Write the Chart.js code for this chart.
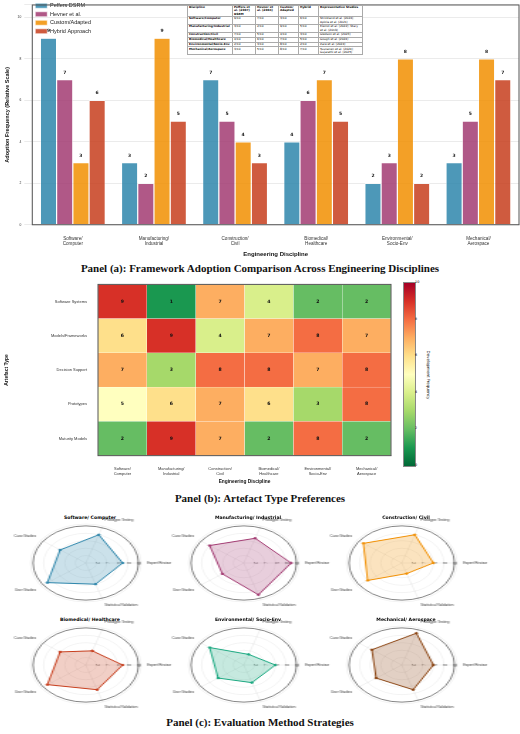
<!DOCTYPE html>
<html><head><meta charset="utf-8">
<script src="https://cdn.jsdelivr.net/npm/chart.js@4.4.0/dist/chart.umd.min.js"></script>
<style>
body{margin:0;background:#fff;font-family:"DejaVu Sans",sans-serif;}
#page{position:relative;width:520px;height:734px;overflow:hidden;}
.abs{position:absolute;}
.ptitle{position:absolute;left:0;width:520px;text-align:center;font-family:"Liberation Serif",serif;font-weight:bold;font-size:11px;color:#111;}
table{border-collapse:collapse;font-size:2.9px;background:#fff;width:176px;table-layout:fixed;}
td,th{border:0.5px solid #aaa;padding:0.3px 1px;vertical-align:top;text-align:left;line-height:1.1;}
th{font-weight:bold;}
td:first-child{font-weight:bold;}
.rt{position:absolute;width:170px;text-align:center;font-size:4.6px;font-weight:bold;}
</style></head><body>
<div id="page">
  <div class="abs" style="left:0;top:0;width:520px;height:262px"><canvas id="bar"></canvas></div>
  <div class="abs" style="left:187px;top:5px">
    <table id="tbl"></table>
  </div>
  <div class="ptitle" style="top:262px">Panel (a): Framework Adoption Comparison Across Engineering Disciplines</div>
  <div class="abs" style="left:0;top:279px;width:394px;height:210px"><canvas id="heat"></canvas></div>
  <div class="abs" id="cbar" style="left:403px;top:282px;width:11px;height:183px;border:0.5px solid #888"></div>
  <div class="abs" id="cticks" style="left:415px;top:282px;height:183px;width:10px;font-size:3.4px"></div>
  <div class="abs" style="width:60px;font-size:4px;transform:rotate(90deg);transform-origin:left top;text-align:center;left:431px;top:345px">Development Frequency</div>
  <div class="ptitle" style="top:492px">Panel (b): Artefact Type Preferences</div>
  <div id="radars"></div>
  <div class="ptitle" style="top:716px">Panel (c): Evaluation Method Strategies</div>
</div>
<script>
// ---- data ----
const disciplines = ['Software/Computer','Manufacturing/Industrial','Construction/Civil','Biomedical/Healthcare','Environmental/Socio-Env','Mechanical/Aerospace'];
const peffers = [9,3,7,4,2,3];
const hevner  = [7,2,5,6,3,5];
const custom  = [3,9,4,7,8,8];
const hybrid  = [6,5,3,5,2,7];
const studies = ['Strickland et al. (2024); Apiola et al. (2021)','Kiemzi et al. (2022); Stary et al. (2019)','Gledson et al. (2023)','Gough et al. (2024)','Zare et al. (2024)','Tuunanen et al. (2024); Gujarathi et al. (2025)'];

const artefacts = ['Software Systems','Models/Frameworks','Decision Support','Prototypes','Maturity Models'];
const heatSoftware      = [9,6,7,5,2];
const heatManufacturing = [1,9,3,6,9];
const heatConstruction  = [7,4,8,7,7];
const heatBiomedical    = [4,7,8,6,2];
const heatEnvironmental = [2,8,7,3,8];
const heatMechanical    = [2,7,8,8,2];

const evalMethods = ['Expert Review','Statistical Validation','User Studies','Case Studies','Prototype Testing'];
const evalSoftware      = [7,6,9,6,8];
const evalManufacturing = [9,9,5,8,7];
const evalConstruction  = [6,3,8,9,8];
const evalBiomedical    = [7,7,9,6,4];
const evalEnvironmental = [6,5,6,8,3];
const evalMechanical    = [6,7,6,7,9];

const splitLabel = s => s.split('/').map((p,i,a)=> i<a.length-1 ? p+'/' : p);

// table
const tbl = document.getElementById('tbl');
let h = '<tr><th style="width:42px">Discipline</th><th style="width:20px">Peffers et al. (2007) DSRM</th><th style="width:20px">Hevner et al. (2004)</th><th style="width:17px">Custom/ Adapted</th><th style="width:17px">Hybrid</th><th>Representative Studies</th></tr>';
disciplines.forEach((d,i)=>{
  h += `<tr><td>${d}</td><td>${peffers[i]}/10</td><td>${hevner[i]}/10</td><td>${custom[i]}/10</td><td>${hybrid[i]}/10</td><td>${studies[i]}</td></tr>`;
});
tbl.innerHTML = h;

const frame = {
  id:'frame',
  afterDraw(c){const a=c.chartArea,x=c.ctx;x.save();x.strokeStyle='#555';x.lineWidth=1;x.strokeRect(a.left,a.top,a.right-a.left,a.bottom-a.top);x.restore();}
};
const barLabels = {
  id:'barLabels',
  afterDatasetsDraw(c){
    const x=c.ctx;x.save();x.font='bold 4.5px "DejaVu Sans"';x.fillStyle='#222';x.textAlign='center';
    c.data.datasets.forEach((ds,i)=>{c.getDatasetMeta(i).data.forEach((b,j)=>{x.fillText(ds.data[j],b.x,b.y-6);});});
    x.restore();
  }
};

new Chart(document.getElementById('bar'),{
  type:'bar',
  data:{labels:disciplines.map(splitLabel),datasets:[
    {label:'Peffers DSRM',data:peffers,backgroundColor:'rgba(46,134,171,0.85)',borderColor:'#fff',borderWidth:0.6},
    {label:'Hevner et al.',data:hevner,backgroundColor:'rgba(162,59,114,0.85)',borderColor:'#fff',borderWidth:0.6},
    {label:'Custom/Adapted',data:custom,backgroundColor:'rgba(241,143,1,0.85)',borderColor:'#fff',borderWidth:0.6},
    {label:'Hybrid Approach',data:hybrid,backgroundColor:'rgba(199,62,29,0.85)',borderColor:'#fff',borderWidth:0.6}
  ]},
  options:{
    responsive:true,maintainAspectRatio:false,animation:false,
    layout:{padding:{top:3,right:1,left:0,bottom:0}},
    datasets:{bar:{categoryPercentage:0.8,barPercentage:1}},
    plugins:{
      legend:{position:'chartArea',align:'start',labels:{boxWidth:12,boxHeight:5,font:{size:5.5},padding:3,color:'#222'}},
      tooltip:{enabled:false}
    },
    scales:{
      x:{grid:{display:false},ticks:{font:{size:4.6},color:'#333'},title:{display:true,text:'Engineering Discipline',font:{size:6,weight:'bold'},color:'#111',padding:{top:1}}},
      y:{min:0,max:10.6,ticks:{stepSize:2,font:{size:3.3},color:'#333',callback:v=>v%2===0?v:''},grid:{color:'rgba(0,0,0,0.08)',borderDash:[2,2]},
         title:{display:true,text:'Adoption Frequency (Relative Scale)',font:{size:5.5,weight:'bold'},color:'#111'}}
    }
  },
  plugins:[frame,barLabels]
});

// heatmap colours (RdYlGn reversed)
const stops = ['#006837','#1a9850','#66bd63','#a6d96a','#d9ef8b','#ffffbf','#fee08b','#fdae61','#f46d43','#d73027','#a50026'];
function hex(c){return [1,3,5].map(i=>parseInt(c.substr(i,2),16));}
function cmap(v){
  const t=Math.max(0,Math.min(1,v/10))*(stops.length-1);const i=Math.min(Math.floor(t),stops.length-2);const f=t-i;
  const a=hex(stops[i]),b=hex(stops[i+1]);
  return `rgb(${a.map((x,k)=>Math.round(x+(b[k]-x)*f)).join(',')})`;
}
document.getElementById('cbar').style.background='linear-gradient(to top,'+stops.join(',')+')';
document.getElementById('cticks').innerHTML=[0,2,4,6,8,10].map(v=>`<div style="position:absolute;top:${183*(1-v/10)-2}px;left:0">${v}</div>`).join('');

const heatCols = [heatSoftware,heatManufacturing,heatConstruction,heatBiomedical,heatEnvironmental,heatMechanical];
const cellText = {
  id:'cellText',
  afterDatasetsDraw(c){
    const x=c.ctx;x.save();x.font='bold 4.6px "DejaVu Sans"';x.fillStyle='#111';x.textAlign='center';x.textBaseline='middle';
    c.data.datasets.forEach((ds,i)=>{c.getDatasetMeta(i).data.forEach((b,j)=>{x.fillText(heatCols[i][j],(b.x+b.base)/2,b.y);});});
    x.restore();
  }
};
new Chart(document.getElementById('heat'),{
  type:'bar',
  data:{labels:artefacts,datasets:heatCols.map((col,i)=>({
    label:disciplines[i],data:artefacts.map(()=>1),backgroundColor:col.map(cmap),borderColor:'rgba(255,255,255,0.35)',borderWidth:0.5,borderSkipped:false
  }))},
  options:{
    indexAxis:'y',responsive:true,maintainAspectRatio:false,animation:false,
    layout:{padding:{top:3,right:2,left:0,bottom:0}},
    datasets:{bar:{categoryPercentage:1,barPercentage:1}},
    plugins:{legend:{display:false},tooltip:{enabled:false}},
    scales:{
      x:{stacked:true,min:0,max:6,grid:{display:false},
         ticks:{stepSize:0.5,autoSkip:false,maxRotation:0,font:{size:4},color:'#333',callback:v=>(v%1===0.5)?splitLabel(disciplines[Math.floor(v)]):''},
         title:{display:true,text:'Engineering Discipline',font:{size:4.8,weight:'bold'},color:'#111',padding:{top:0}}},
      y:{stacked:true,grid:{display:false},ticks:{font:{size:4},color:'#333'},afterFit:s=>{s.width=98;},
         title:{display:true,text:'Artefact Type',font:{size:5,weight:'bold'},color:'#111'}}
    }
  },
  plugins:[frame,cellText]
});

// radars
const radarSets = [
  ['Software/ Computer',evalSoftware,'46,134,171'],
  ['Manufacturing/ Industrial',evalManufacturing,'162,59,114'],
  ['Construction/ Civil',evalConstruction,'241,143,1'],
  ['Biomedical/ Healthcare',evalBiomedical,'199,62,29'],
  ['Environmental/ Socio-Env',evalEnvironmental,'26,168,128'],
  ['Mechanical/ Aerospace',evalMechanical,'139,69,19']
];
const rwrap=document.getElementById('radars');
const colX=[90,248,406], rowY=[564,666];
radarSets.forEach((r,i)=>{
  const cx=colX[i%3], cy=rowY[Math.floor(i/3)];
  const t=document.createElement('div');t.className='rt';t.style.left=(cx-85)+'px';t.style.top=(cy-49)+'px';t.textContent=r[0];rwrap.appendChild(t);
  const d=document.createElement('div');d.className='abs';
  d.style.cssText=`left:${cx-60}px;top:${cy-48}px;width:120px;height:96px;transform:scaleX(1.42);transform-origin:center`;
  const cv=document.createElement('canvas');d.appendChild(cv);rwrap.appendChild(d);
  new Chart(cv,{
    type:'radar',
    data:{labels:evalMethods,datasets:[{data:r[1],borderColor:`rgb(${r[2]})`,backgroundColor:`rgba(${r[2]},0.25)`,borderWidth:1,pointRadius:0.8,pointBackgroundColor:`rgb(${r[2]})`}]},
    options:{
      responsive:true,maintainAspectRatio:false,animation:false,
      layout:{padding:0},
      plugins:{legend:{display:false},tooltip:{enabled:false}},
      scales:{r:{min:0,max:10.5,startAngle:90,
        ticks:{stepSize:2,font:{size:2.6},backdropColor:'rgba(0,0,0,0)',color:'#333',callback:v=>v%2===0&&v>0?v:''},
        grid:{circular:true,color:c=>c.index===5?'#666':'rgba(0,0,0,0.1)',lineWidth:c=>c.index===5?0.8:0.5},
        angleLines:{color:'rgba(0,0,0,0.12)',lineWidth:0.5},
        pointLabels:{font:{size:2.6},color:'#333',padding:1}}}
    }
  });
});
</script>
</body></html>
